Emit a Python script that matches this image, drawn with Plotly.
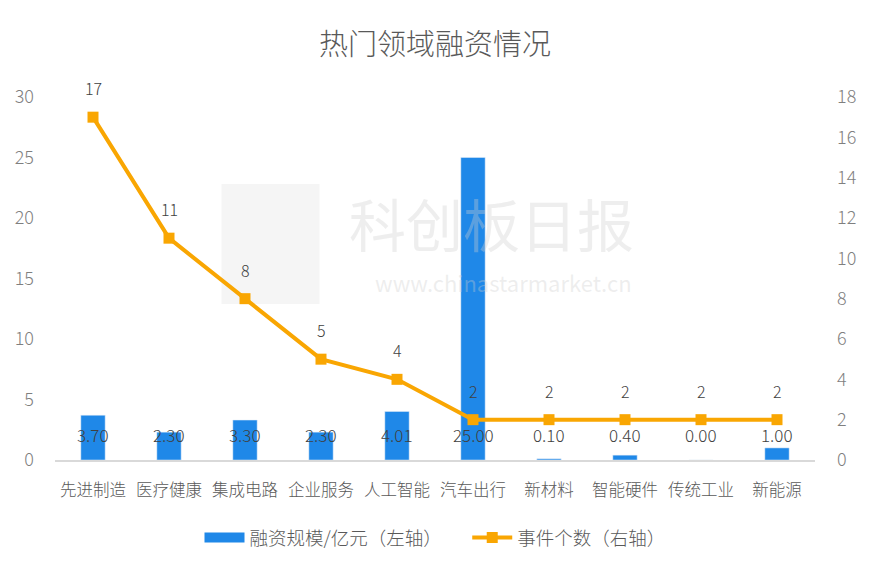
import plotly.graph_objects as go

categories = ["先进制造", "医疗健康", "集成电路", "企业服务", "人工智能", "汽车出行", "新材料", "智能硬件", "传统工业", "新能源"]
amounts = [3.70, 2.30, 3.30, 2.30, 4.01, 25.00, 0.10, 0.40, 0.00, 1.00]
events = [17, 11, 8, 5, 4, 2, 2, 2, 2, 2]
left_ticks = [0, 5, 10, 15, 20, 25, 30]
right_ticks = [0, 2, 4, 6, 8, 10, 12, 14, 16, 18]

FONT = "Noto Sans CJK SC"
BAR = "#1f88e8"
LINE = "#f9a602"
TXT = "#404040"
AX = "#595959"
TICK = "#7f7f7f"

fig = go.Figure()
fig.add_trace(go.Bar(x=categories, y=amounts, name="融资规模/亿元（左轴）",
                     marker_color=BAR, yaxis="y", showlegend=False))
# legend stand-in for the bar series (wide rectangle swatch)
fig.add_trace(go.Scatter(x=[None], y=[None], name="融资规模/亿元（左轴）" + "\u00a0" * 5, mode="lines",
                         line=dict(color=BAR, width=13), yaxis="y"))
fig.add_trace(go.Scatter(x=categories, y=events, name="事件个数（右轴）", mode="lines+markers",
                         line=dict(color=LINE, width=4), marker=dict(symbol="square", size=11, color=LINE),
                         yaxis="y2"))

ann = []
for c, a in zip(categories, amounts):
    ann.append(dict(x=c, y=2.07, xref="x", yref="y", text=f"{a:.2f}", showarrow=False,
                    font=dict(family=FONT, size=17, color=TXT, weight=300)))
for c, e in zip(categories, events):
    ann.append(dict(x=c, y=e, xref="x", yref="y2", text=str(e), showarrow=False, yshift=29,
                    font=dict(family=FONT, size=16, color=TXT, weight=300)))
# watermark
ann.append(dict(x=0.575, y=0.655, xref="paper", yref="paper", text="科创板日报", showarrow=False,
                font=dict(family=FONT, size=57, color="rgba(205,205,205,0.35)")))
ann.append(dict(x=0.59, y=0.49, xref="paper", yref="paper", text="www.chinastarmarket.cn", showarrow=False,
                font=dict(family=FONT, size=22, color="rgba(205,205,205,0.35)")))

fig.update_layout(
    width=862, height=562,
    paper_bgcolor="white", plot_bgcolor="white",
    margin=dict(l=47, r=55, t=89, b=110, autoexpand=False),
    title=dict(text="热门领域融资情况", x=0.5, xref="paper", xanchor="center", y=0.934, yanchor="middle",
               font=dict(family=FONT, size=29, color=AX, weight=300)),
    font=dict(family=FONT, color=AX),
    bargap=0.68,
    shapes=[dict(type="rect", xref="paper", yref="paper", x0=0.219, x1=0.348, y0=0.43, y1=0.76,
                 fillcolor="rgba(200,200,200,0.18)", line=dict(width=0), layer="below")],
    xaxis=dict(range=[-0.5, 9.5], showline=True, linecolor="#d9d9d9", linewidth=2, ticks="", showgrid=False,
               automargin=False, tickfont=dict(size=16.5, color=AX, weight=300), ticklabelstandoff=14),
    yaxis=dict(range=[0, 30], tickvals=left_ticks, showgrid=False, zeroline=False, showline=False,
               automargin=False, tickfont=dict(size=18, color=TICK, weight=300), ticklabelstandoff=20),
    yaxis2=dict(range=[0, 18], tickvals=right_ticks, overlaying="y", side="right", showgrid=False,
                automargin=False, zeroline=False, showline=False,
                tickfont=dict(size=18, color=TICK, weight=300), ticklabelstandoff=21),
    legend=dict(orientation="h", x=0.5, xanchor="center", y=-0.215, yanchor="middle",
                font=dict(family=FONT, size=18.5, color=AX, weight=300), itemwidth=40),
    annotations=ann,
    showlegend=True,
)
fig.write_html("out.html")
